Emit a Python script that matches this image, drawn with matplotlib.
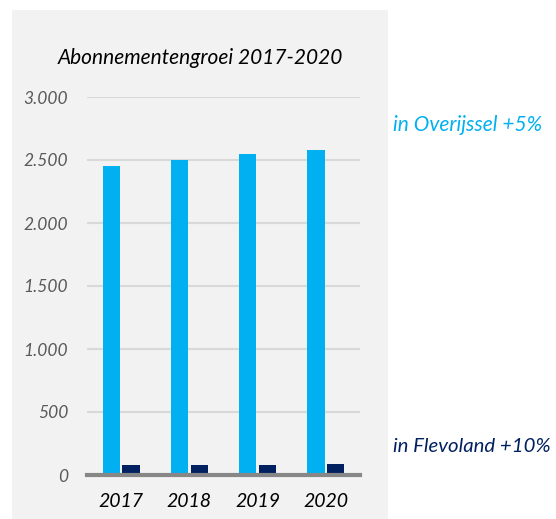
import matplotlib.pyplot as plt
import numpy as np
from matplotlib.patches import Rectangle

# -- data --------------------------------------------------------------------
years = ["2017", "2018", "2019", "2020"]
overijssel = [2452, 2502, 2545, 2580]
flevoland = [80, 80, 82, 88]
yticks = [0, 500, 1000, 1500, 2000, 2500, 3000]
ytick_labels = ["0", "500", "1.000", "1.500", "2.000", "2.500", "3.000"]

LIGHT = "#00B0F0"
DARK = "#002060"
PANEL = "#F2F2F2"

W, H = 556, 519
plt.rcParams["font.family"] = ["Lato", "DejaVu Sans"]

fig = plt.figure(figsize=(W / 100, H / 100), dpi=100)
fig.patch.set_facecolor("white")

# gray chart panel, behind the axes
fig.patches.append(Rectangle((12 / W, 0), (388 - 12) / W, (519 - 10) / H,
                             transform=fig.transFigure, facecolor=PANEL,
                             edgecolor="none", zorder=-5))

ax = fig.add_axes([87 / W, 1 - 475 / H, (360 - 87) / W, (475 - 97) / H])
ax.set_facecolor("none")
ax.set_zorder(2)

x = np.arange(len(years))
bw = 0.25
ax.bar(x - 0.145, overijssel, bw, color=LIGHT, zorder=3)
ax.bar(x + 0.145, flevoland, bw, color=DARK, zorder=3)

ax.set_xlim(-0.5, len(years) - 0.5)
ax.set_ylim(0, 3000)
ax.set_yticks(yticks)
ax.set_yticklabels(ytick_labels, fontsize=12.5, style="italic", color="#595959")
ax.set_xticks(x)
ax.set_xticklabels(years, fontsize=14, style="italic", color="black")
ax.tick_params(axis="both", length=0)
ax.tick_params(axis="y", pad=13.5)
ax.tick_params(axis="x", pad=13)
ax.grid(axis="y", color="#D9D9D9", linewidth=1.5, zorder=0)
for s in ax.spines.values():
    s.set_visible(False)
ax.axhline(0, color="#878787", linewidth=3, zorder=4, clip_on=False)

fig.text(200 / W, 1 - 58 / H, "Abonnementengroei 2017-2020", ha="center",
         va="center", fontsize=15, style="italic", color="black", zorder=3)
fig.text(393 / W, 1 - 125 / H, "in Overijssel +5%", ha="left", va="center",
         fontsize=15, style="italic", color=LIGHT, zorder=3)
fig.text(393 / W, 1 - 447 / H, "in Flevoland +10%", ha="left", va="center",
         fontsize=14.7, style="italic", color=DARK, zorder=3)

fig.savefig("out.png", dpi=100)
